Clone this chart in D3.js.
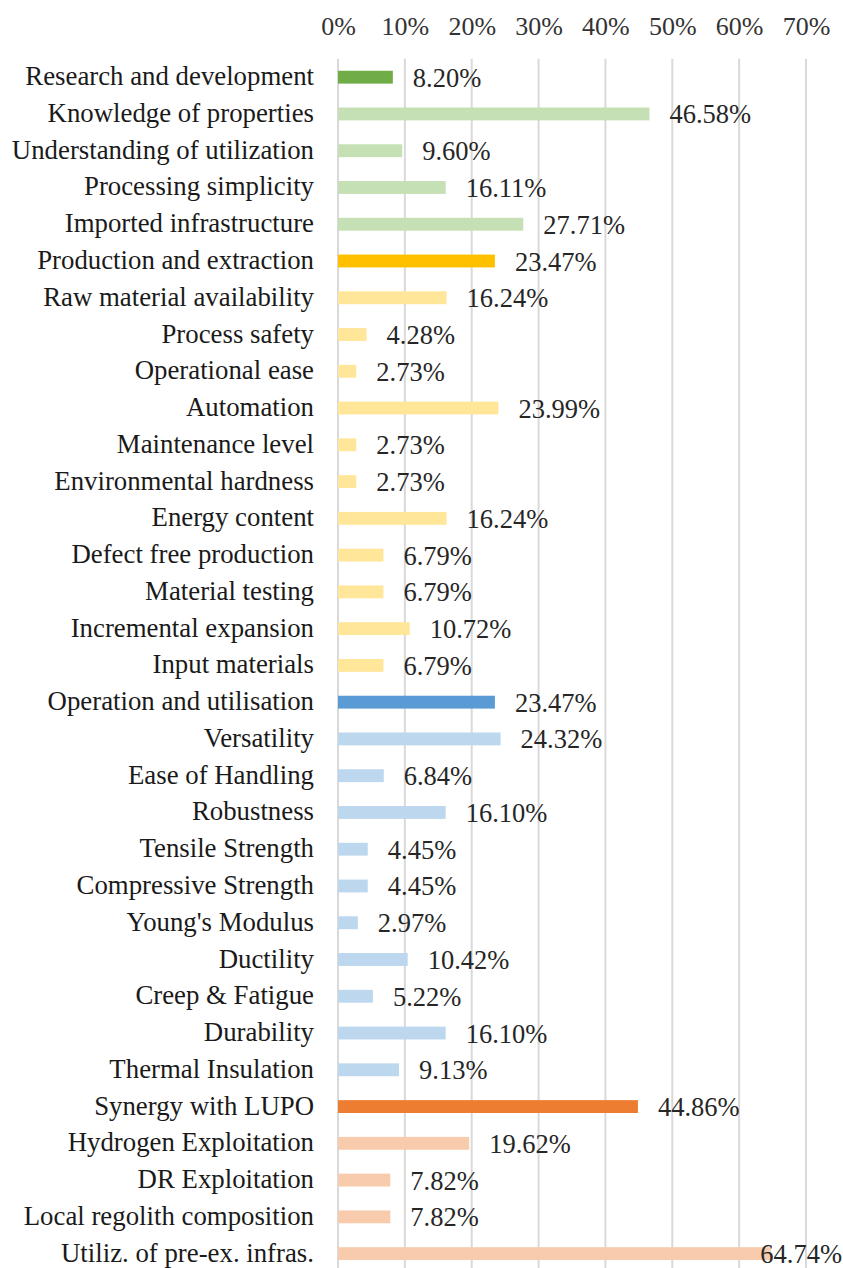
<!DOCTYPE html>
<html>
<head>
<meta charset="utf-8">
<script src="https://cdn.jsdelivr.net/npm/d3@7"></script>
<style>
  html, body { margin: 0; padding: 0; background: #fff; }
  svg { display: block; }
</style>
</head>
<body>
<svg id="chart" width="843" height="1268"></svg>
<script>
const categories = [
  "Research and development",
  "Knowledge of properties",
  "Understanding of utilization",
  "Processing simplicity",
  "Imported infrastructure",
  "Production and extraction",
  "Raw material availability",
  "Process safety",
  "Operational ease",
  "Automation",
  "Maintenance level",
  "Environmental hardness",
  "Energy content",
  "Defect free production",
  "Material testing",
  "Incremental expansion",
  "Input materials",
  "Operation and utilisation",
  "Versatility",
  "Ease of Handling",
  "Robustness",
  "Tensile Strength",
  "Compressive Strength",
  "Young's Modulus",
  "Ductility",
  "Creep & Fatigue",
  "Durability",
  "Thermal Insulation",
  "Synergy with LUPO",
  "Hydrogen Exploitation",
  "DR Exploitation",
  "Local regolith composition",
  "Utiliz. of pre-ex. infras."
];
const values = [
  8.20, 46.58, 9.60, 16.11, 27.71,
  23.47, 16.24, 4.28, 2.73, 23.99, 2.73, 2.73, 16.24, 6.79, 6.79, 10.72, 6.79,
  23.47, 24.32, 6.84, 16.10, 4.45, 4.45, 2.97, 10.42, 5.22, 16.10, 9.13,
  44.86, 19.62, 7.82, 7.82, 64.74
];
// group of each category: 0 = research, 1 = production, 2 = operation, 3 = synergy
const groups = [
  0,0,0,0,0,
  1,1,1,1,1,1,1,1,1,1,1,1,
  2,2,2,2,2,2,2,2,2,2,2,
  3,3,3,3,3
];
// headline rows (darker colour)
const headers = ["Research and development","Production and extraction","Operation and utilisation","Synergy with LUPO"];
const tickValues = [0,10,20,30,40,50,60,70];

const darkColors = ["#70ad47","#ffc000","#5b9bd5","#ed7d31"];
const lightColors = ["#c5e0b4","#ffe699","#bdd7ee","#f8cbad"];

const data = categories.map((c,i)=>({cat:c, v:values[i], g:groups[i], head: headers.includes(c)}));

const svg = d3.select("#chart");
const font = "'Liberation Serif', 'Times New Roman', serif";

const x = d3.scaleLinear().domain([0,70]).range([338,806]);
const y = d3.scaleBand().domain(categories).range([58.8,1272]).paddingInner(0.65).paddingOuter(0.325);

// gridlines
svg.append("g").selectAll("line").data(tickValues).join("line")
  .attr("x1", d=>x(d)).attr("x2", d=>x(d))
  .attr("y1", 58.8).attr("y2", 1268)
  .attr("stroke", "#d9d9d9").attr("stroke-width", 2);

// top axis labels
const axis = d3.axisTop(x).tickValues(tickValues).tickFormat(d=>d+"%").tickSize(0).tickPadding(0);
const ax = svg.append("g").attr("transform","translate(0,35)").call(axis);
ax.select(".domain").remove();
ax.selectAll("text").attr("font-family", font).attr("font-size", 26).attr("fill","#333")
  .attr("dy", 0).attr("y", 0);

// bars
svg.append("g").selectAll("rect").data(data).join("rect")
  .attr("x", x(0))
  .attr("y", d=>y(d.cat))
  .attr("width", d=>x(d.v)-x(0))
  .attr("height", y.bandwidth())
  .attr("fill", d=>d.head ? darkColors[d.g] : lightColors[d.g]);

// category labels
svg.append("g").selectAll("text").data(data).join("text")
  .attr("x", 314)
  .attr("y", d=>y(d.cat)+y.bandwidth()/2+8)
  .attr("text-anchor","end")
  .attr("font-family", font).attr("font-size", 26.8)
  .attr("fill","#1a1a1a")
  .text(d=>d.cat);

// value labels
const fmt = d3.format(".2f");
const vl = svg.append("g").selectAll("text").data(data).join("text")
  .attr("y", d=>y(d.cat)+y.bandwidth()/2+9.5)
  .attr("font-family", font).attr("font-size", 26.5)
  .attr("fill","#262626")
  .text(d=>fmt(d.v)+"%");
vl.each(function(d){
  const w = this.getComputedTextLength();
  let xs = x(d.v)+20;
  if (xs + w > 842) xs = 842 - w;
  d3.select(this).attr("x", xs);
});
</script>
</body>
</html>
